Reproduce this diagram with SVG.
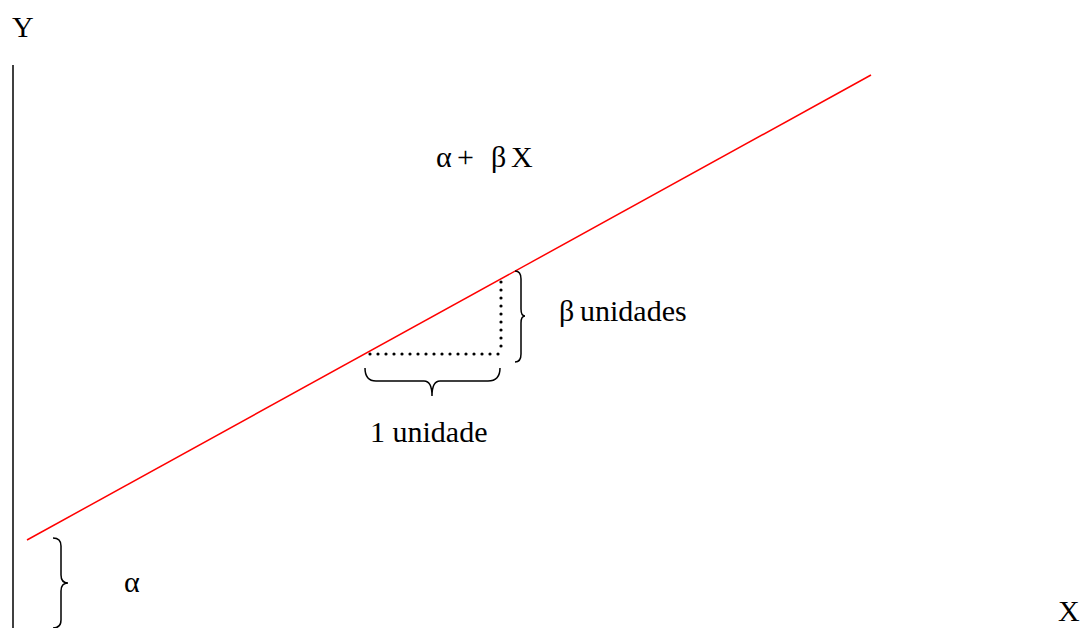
<svg xmlns="http://www.w3.org/2000/svg" width="1083" height="628" viewBox="0 0 1083 628">
<style>
.brace{fill:none;stroke:#000;stroke-width:1.5}
.dot{stroke:#000;stroke-width:3.2;stroke-dasharray:0 8;stroke-linecap:round}
</style>
<rect width="1083" height="628" fill="#fff"/>
<g id="axes">
<line x1="13" y1="65" x2="13" y2="628" stroke="#000" stroke-width="1.5"/>
<text font-family="Liberation Serif" font-size="30" x="12" y="37">Y</text>
<text font-family="Liberation Serif" font-size="30" x="1058" y="621">X</text>
</g>
<g id="connectors">
<line x1="27" y1="540" x2="871" y2="75" stroke="#f00" stroke-width="1.5"/>
<line class="dot" x1="370" y1="354" x2="501" y2="354"/>
<line class="dot" x1="501" y1="282" x2="501" y2="354"/>
</g>
<g id="braces">
<path class="brace" d="M53,538 Q61,538 61,546 L61,575 Q61,583 68,583 Q61,583 61,591 L61,620 Q61,628 53,628"/>
<path class="brace" d="M515,271 Q521,271 521,279 L521,309 Q521,316 525,316 Q521,316 521,323 L521,354 Q521,362 515,362"/>
<path class="brace" d="M365,368 Q365,381 376,381 L424,381 Q432,381 432,396 Q432,381 440,381 L488,381 Q500,381 500,368"/>
</g>
<g id="labels">
<text font-family="Liberation Serif" font-size="30" y="167"><tspan x="436">α</tspan><tspan x="457">+</tspan><tspan x="491">β</tspan><tspan x="511">X</tspan></text>
<text font-family="Liberation Serif" font-size="30" y="321"><tspan x="559">β</tspan><tspan x="580">unidades</tspan></text>
<text font-family="Liberation Serif" font-size="30" x="370" y="442">1 unidade</text>
<text font-family="Liberation Serif" font-size="30" x="124" y="592">α</text>
</g>
</svg>
